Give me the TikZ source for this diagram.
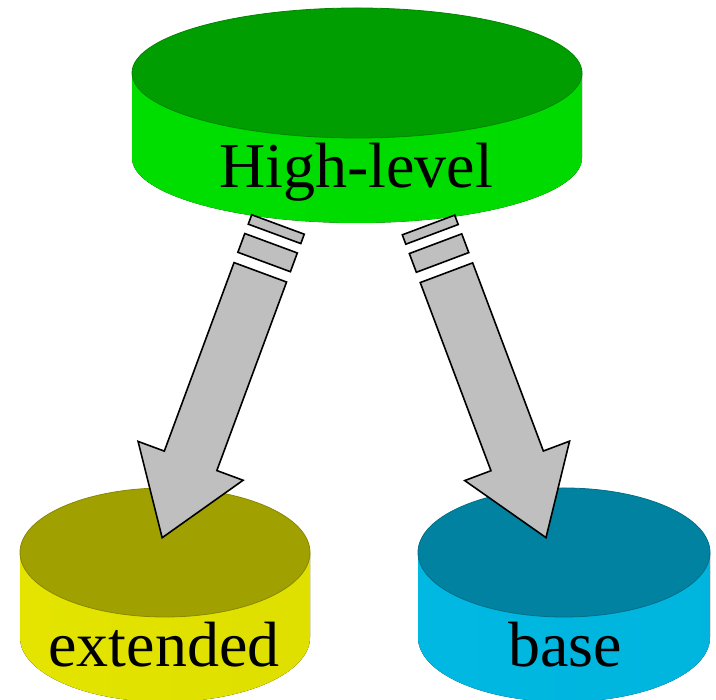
\documentclass[tikz,border=0pt]{standalone}
\usepackage{fontspec}
\setmainfont{Liberation Serif}
\usepackage{xcolor}
\usepackage{tikz}
\usetikzlibrary{calc}
\definecolor{hightop}{RGB}{0,158,0}
\definecolor{highside}{RGB}{0,234,0}
\definecolor{exttop}{RGB}{160,160,0}
\definecolor{extside}{RGB}{240,240,0}
\definecolor{basetop}{RGB}{0,130,160}
\definecolor{baseside}{RGB}{0,194,238}
\tikzstyle{drumlabel}=[inner sep=0pt, anchor=base, text=black,% big serif text on the side
font=\fontsize{64}{72}\selectfont]
\tikzstyle{fatarrow}=[draw=black, fill=black!25, line width=1.6pt, line join=miter]
% #1 centre of top face, #2 x radius, #3 y radius, #4 height, #5 top colour, #6 side colour
\newcommand{\drum}[6]{
\fill[shading=axis, shading angle=90, left color=#6!95!black, middle color=#6, right color=#6!93!black]
 ($(#1)+(-#2,0)$) -- ++(0,-#4) arc[start angle=180, end angle=360, x radius=#2, y radius=#3]
 -- ++(0,#4) -- cycle;
\filldraw[fill=#5, draw=#5!85!black, line width=0.8pt] (#1) ellipse[x radius=#2, y radius=#3];
}
% #1 tail coordinate, #2 direction
\newcommand{\stripearrow}[2]{
\begin{scope}[shift={(#1)}, rotate=#2]
\draw[fatarrow] (0,-28) rectangle (10,28);
\draw[fatarrow] (20,-28) rectangle (40,28);
\draw[fatarrow] (51,-28) -- (252,-28) -- (252,-56) -- (334,0) -- (252,56) -- (252,28) -- (51,28) -- cycle;
\end{scope}
}

\begin{document}
\begin{tikzpicture}[x=1pt, y=1pt]
\useasboundingbox (0,0) rectangle (716,700);
\coordinate (high) at (357,627);
\coordinate (ext) at (165,147.5);
\coordinate (base) at (564,147.5);
\drum{high}{225}{65}{85}{hightop}{highside}
\drum{ext}{145}{64.5}{85}{exttop}{extside}
\drum{base}{146}{64.5}{85}{basetop}{baseside}
\node[drumlabel] (hightext) at (356,512) {High-level};
\node[drumlabel] (exttext) at (164,33) {extended};
\node[drumlabel] (basetext) at (565,33) {base};
\coordinate (ltail) at (278,475.5);
\coordinate (rtail) at (428.5,475);
\stripearrow{ltail}{249.7}
\stripearrow{rtail}{290.6}
\end{tikzpicture}
\end{document}
